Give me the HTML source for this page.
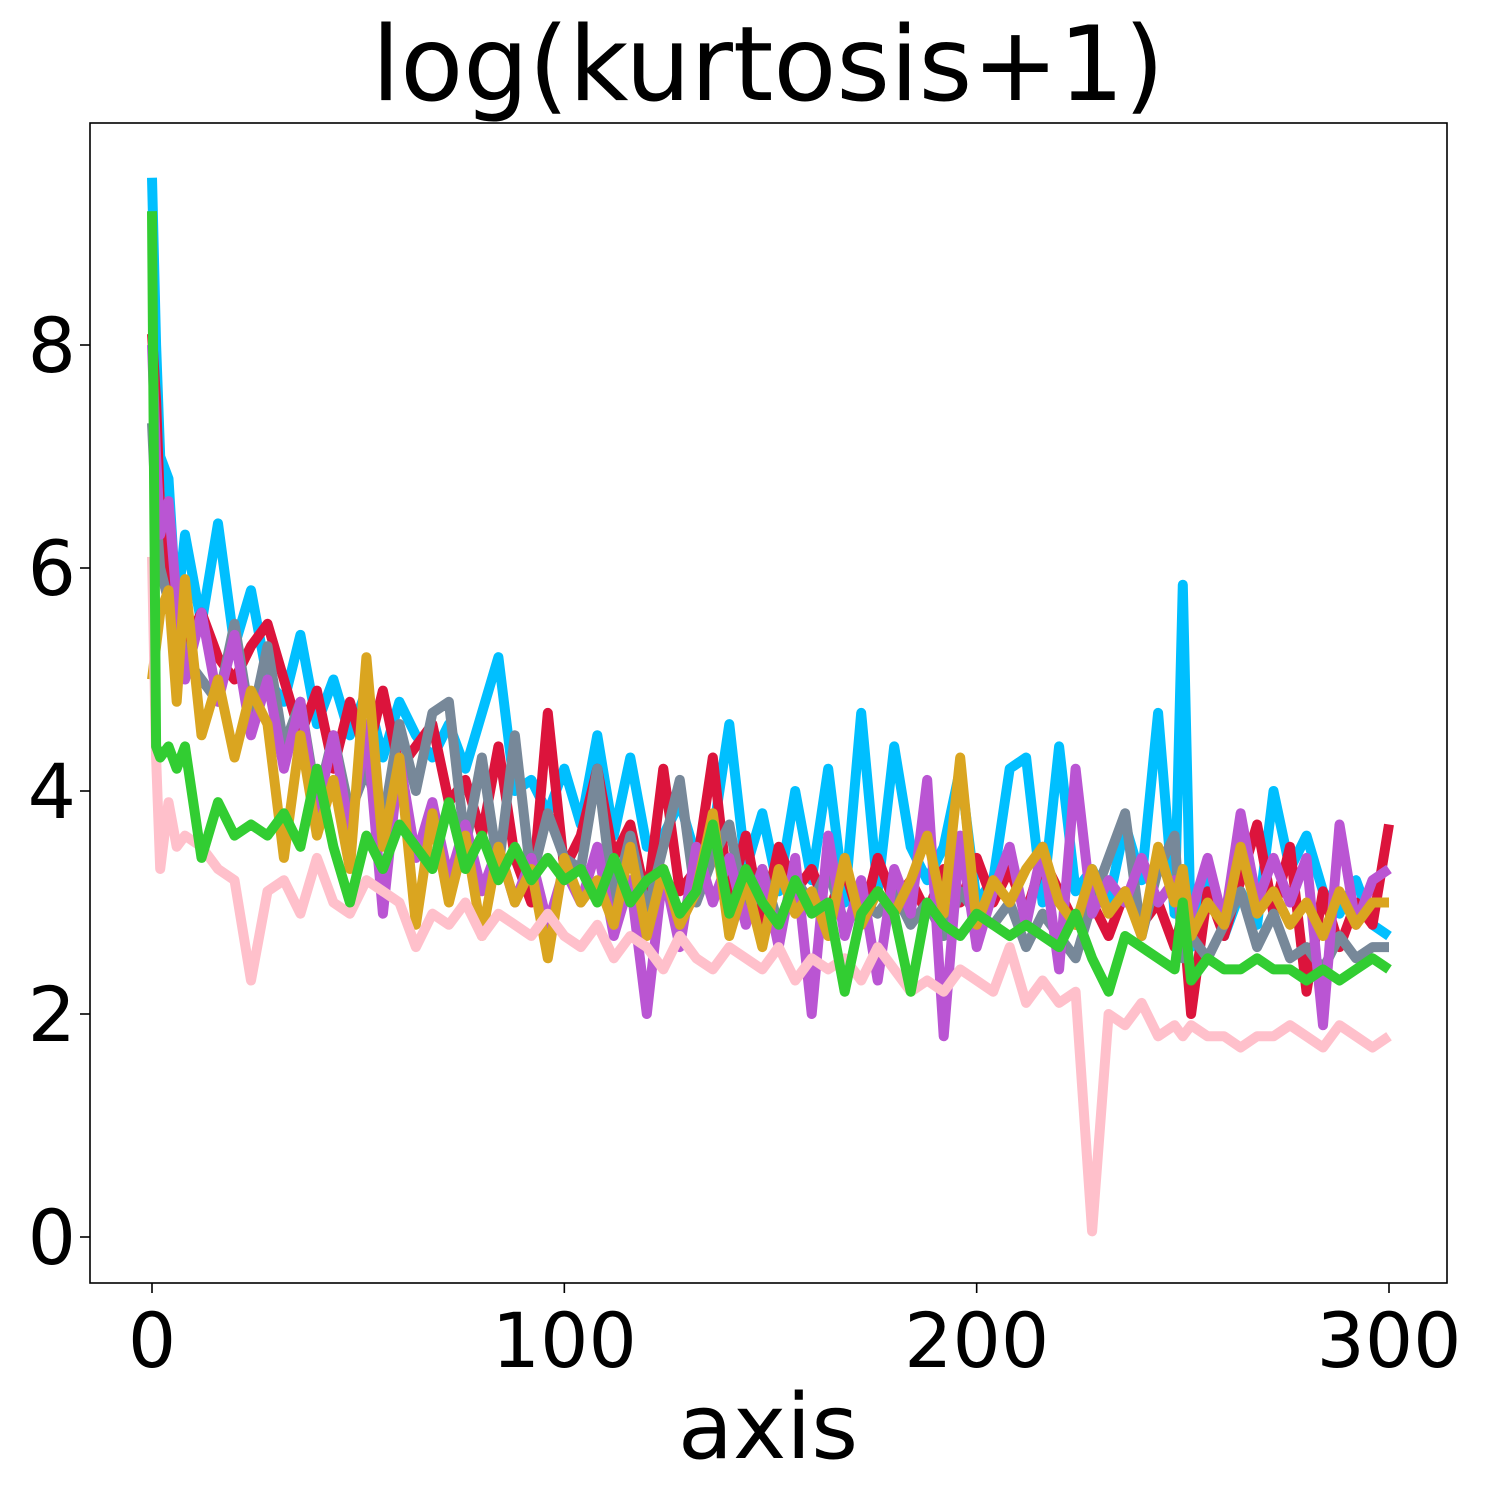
<!DOCTYPE html>
<html><head><meta charset="utf-8"><style>
html,body{margin:0;padding:0;background:#fff;}
svg{display:block;}
text{font-family:"DejaVu Sans","Liberation Sans",sans-serif;fill:#000;}
</style></head><body>
<svg id="chart" width="1500" height="1500" viewBox="0 0 1500 1500" xmlns="http://www.w3.org/2000/svg">
<rect x="0" y="0" width="1500" height="1500" fill="#fff"/>
<text x="768" y="100" font-size="103" text-anchor="middle">log(kurtosis+1)</text>
<text x="768" y="1458" font-size="90" text-anchor="middle">axis</text>
<g id="plot"></g>
</svg>
<script>
const xs = [0,1,2,4,6,8,12,16,20,24,28,32,36,40,44,48,52,56,60,64,68,72,76,80,84,88,92,96,100,104,108,112,116,120,124,128,132,136,140,144,148,152,156,160,164,168,172,176,180,184,188,192,196,200,204,208,212,216,220,224,228,232,236,240,244,248,250,252,256,260,264,268,272,276,280,284,288,292,296,300];
const blueVals = [9.5,8.0,7.0,6.8,5.6,6.3,5.5,6.4,5.3,5.8,5.0,4.8,5.4,4.6,5.0,4.5,4.9,4.3,4.8,4.5,4.3,4.6,4.2,4.7,5.2,4.0,4.1,3.8,4.2,3.7,4.5,3.6,4.3,3.5,3.6,3.9,3.4,3.6,4.6,3.3,3.8,3.1,4.0,3.2,4.2,3.0,4.7,3.1,4.4,3.5,3.2,3.5,4.2,3.0,3.2,4.2,4.3,3.0,4.4,3.1,3.3,3.0,3.7,3.2,4.7,2.9,5.85,2.6,3.2,2.7,3.1,2.8,4.0,3.3,3.6,3.1,2.9,3.2,2.8,2.7];
const redVals = [8.1,7.5,6.5,5.7,5.5,5.3,5.6,5.2,5.0,5.3,5.5,5.0,4.5,4.9,4.2,4.8,4.3,4.9,4.2,4.4,4.6,3.9,4.1,3.6,4.4,3.4,3.0,4.7,3.3,3.6,4.2,3.4,3.7,3.0,4.2,3.1,3.3,4.3,3.0,3.6,2.8,3.5,3.1,3.3,2.9,3.3,2.8,3.4,3.0,3.2,2.9,3.3,3.0,3.4,3.0,3.3,2.9,3.4,3.1,2.8,3.0,2.7,3.1,2.8,3.0,2.6,2.9,2.0,3.1,2.7,3.2,3.7,2.9,3.5,2.2,3.1,2.6,3.0,2.8,3.7];
const grayVals = [7.3,6.5,6.0,5.7,5.5,5.2,5.0,4.8,5.5,4.6,5.3,4.4,4.8,3.9,4.5,3.8,4.2,3.7,4.6,4.0,4.7,4.8,3.5,4.3,3.3,4.5,3.2,3.8,3.4,3.3,4.2,3.0,3.6,2.9,3.5,4.1,3.0,3.4,3.7,2.9,3.3,2.8,3.2,3.0,3.3,2.8,3.0,2.9,3.1,2.8,3.0,2.7,3.1,2.9,2.8,3.0,2.6,2.9,2.7,2.5,3.0,3.4,3.8,2.7,3.3,3.6,2.5,2.7,2.5,2.8,3.1,2.6,2.9,2.5,2.6,2.4,2.7,2.5,2.6,2.6];
const orchidVals = [8.0,7.0,6.3,6.6,5.7,5.0,5.6,4.8,5.4,4.5,5.0,4.2,4.8,3.8,4.5,3.6,4.6,2.9,4.3,3.4,3.9,3.2,3.7,3.1,3.5,3.0,3.4,2.8,3.3,3.0,3.5,2.7,3.2,2.0,3.3,2.6,3.5,3.0,3.4,2.8,3.3,2.6,3.4,2.0,3.6,2.7,3.2,2.3,3.3,2.9,4.1,1.8,3.6,2.6,3.1,3.5,2.8,3.5,2.4,4.2,2.9,3.2,3.0,3.4,3.0,3.2,2.8,2.9,3.4,2.8,3.8,3.0,3.4,3.0,3.4,1.9,3.7,2.8,3.2,3.3];
const goldVals = [5.0,5.3,5.6,5.8,4.8,5.9,4.5,5.0,4.3,4.9,4.6,3.4,4.5,3.6,4.1,3.3,5.2,3.5,4.3,2.8,3.8,3.0,3.6,2.7,3.5,3.0,3.3,2.5,3.4,3.0,3.2,2.8,3.5,2.7,3.3,2.8,3.1,3.8,2.7,3.2,2.6,3.3,2.9,3.1,2.7,3.4,2.8,3.1,2.9,3.2,3.6,2.9,4.3,2.8,3.2,3.0,3.3,3.5,3.0,2.8,3.3,2.9,3.1,2.7,3.5,3.0,3.3,2.7,3.0,2.8,3.5,2.9,3.1,2.8,3.0,2.7,3.1,2.8,3.0,3.0];
const pinkVals = [6.1,4.3,3.3,3.9,3.5,3.6,3.5,3.3,3.2,2.3,3.1,3.2,2.9,3.4,3.0,2.9,3.2,3.1,3.0,2.6,2.9,2.8,3.0,2.7,2.9,2.8,2.7,2.9,2.7,2.6,2.8,2.5,2.7,2.6,2.4,2.7,2.5,2.4,2.6,2.5,2.4,2.6,2.3,2.5,2.4,2.5,2.3,2.6,2.4,2.2,2.3,2.2,2.4,2.3,2.2,2.6,2.1,2.3,2.1,2.2,0.05,2.0,1.9,2.1,1.8,1.9,1.8,1.9,1.8,1.8,1.7,1.8,1.8,1.9,1.8,1.7,1.9,1.8,1.7,1.8];
const greenVals = [9.2,4.4,4.3,4.4,4.2,4.4,3.4,3.9,3.6,3.7,3.6,3.8,3.5,4.2,3.5,3.0,3.6,3.3,3.7,3.5,3.3,3.9,3.3,3.6,3.2,3.5,3.2,3.4,3.2,3.3,3.0,3.4,3.0,3.2,3.3,2.9,3.1,3.7,2.9,3.3,3.0,2.8,3.2,2.9,3.0,2.2,2.9,3.1,2.9,2.2,3.0,2.8,2.7,2.9,2.8,2.7,2.8,2.7,2.6,2.9,2.5,2.2,2.7,2.6,2.5,2.4,3.0,2.3,2.5,2.4,2.4,2.5,2.4,2.4,2.3,2.4,2.3,2.4,2.5,2.4];
const xTicks = [0,100,200,300];
const yTicks = [0,2,4,6,8];
const seriesNames = ["blue","red","gray","orchid","gold","pink","green"];
const seriesVals = [blueVals,redVals,grayVals,orchidVals,goldVals,pinkVals,greenVals];
const seriesColors = ["#00bfff","#dc143c","#778899","#ba55d3","#daa520","#ffc0cb","#32cd32"];

const L=90,R=1447,T=123,B=1283;
function xScale(v){return 152+v*(1389-152)/300;}
function yScale(v){return 1237-v*(1237-345)/8;}
const NS="http://www.w3.org/2000/svg";
const g=document.getElementById('plot');
function mk(tag,attrs,parent){const e=document.createElementNS(NS,tag);for(const k in attrs)e.setAttribute(k,attrs[k]);(parent||g).appendChild(e);return e;}

const lines=mk('g',{});


seriesVals.forEach((vals,i)=>{
  const n=Math.min(vals.length,xs.length);
  let d='';
  for(let j=0;j<n;j++){d+=(j?'L':'M')+xScale(xs[j]).toFixed(1)+','+yScale(vals[j]).toFixed(1);}
  const p=mk('path',{d:d,fill:'none',stroke:seriesColors[i],'stroke-width':10,'stroke-linejoin':'round','stroke-linecap':'butt'},lines);
  
  
});

const frame=mk('rect',{x:L,y:T,width:R-L,height:B-T,fill:'none',stroke:'#000','stroke-width':1.6});



xTicks.forEach(v=>{
  const x=xScale(v);
  const t=mk('line',{x1:x,x2:x,y1:B,y2:B+10,stroke:'#000','stroke-width':1.6});
  
  
  const l=mk('text',{x:x,y:B+84,'font-size':76,'text-anchor':'middle'});
  l.textContent=v;
  
  
});
yTicks.forEach(v=>{
  const y=yScale(v);
  const t=mk('line',{x1:L-10,x2:L,y1:y,y2:y,stroke:'#000','stroke-width':1.6});
  
  
  const l=mk('text',{x:L-14,y:y+27,'font-size':76,'text-anchor':'end'});
  l.textContent=v;
  
  
});
</script>
</body></html>
